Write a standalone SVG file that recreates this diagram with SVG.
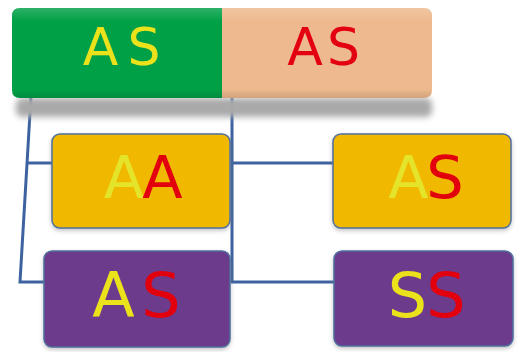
<svg xmlns="http://www.w3.org/2000/svg" width="522" height="352" viewBox="0 0 522 352">
  <defs>
    <filter id="blur6" x="-10%" y="-50%" width="120%" height="200%">
      <feGaussianBlur stdDeviation="3"/>
    </filter>
    <filter id="soft" x="-10%" y="-10%" width="120%" height="130%">
      <feDropShadow dx="0" dy="2" stdDeviation="2" flood-color="#7a7a7a" flood-opacity="0.45"/>
    </filter>
    <linearGradient id="sheen" x1="0" y1="0" x2="0" y2="1">
      <stop offset="0" stop-color="#fff" stop-opacity="0.18"/>
      <stop offset="0.15" stop-color="#fff" stop-opacity="0"/>
      <stop offset="0.9" stop-color="#000" stop-opacity="0"/>
      <stop offset="1" stop-color="#000" stop-opacity="0.12"/>
    </linearGradient>
  </defs>
  <style>
    .t { font-family: "DejaVu Sans", "Open Sans", sans-serif; text-anchor: middle; }
    .big { font-size: 52px; }
    .mid { font-size: 59px; }
    .lg { font-size: 62px; }
    .y { fill: #ece21c; }
    .ly { fill: #e4e42a; }
    .r { fill: #e3000f; }
    .box { stroke: #4d6f9e; stroke-width: 1.5; }
    .gold { fill: #f1b800; }
    .purple { fill: #6d3b8b; }
    .link { fill: none; stroke: #3d62a0; stroke-width: 3; stroke-linejoin: miter; }
  </style>

  <!-- connectors -->
  <g id="connectors">
    <path class="link" d="M31,96 L20,282 L48,282"/>
    <path class="link" d="M28,163 L54,163"/>
    <path class="link" d="M232,96 L232,282 L336,282"/>
    <path class="link" d="M232,163 L336,163"/>
  </g>

  <!-- header bar -->
  <g id="header">
    <rect x="16" y="98" width="416" height="19" rx="6" fill="#a9a9a9" filter="url(#blur6)"/>
    <path d="M20,8 H222 V98 H20 Q12,98 12,90 V16 Q12,8 20,8 Z" fill="#00a046"/>
    <path d="M222,8 H424 Q432,8 432,16 V90 Q432,98 424,98 H222 Z" fill="#eeb98e"/>
    <rect x="12" y="8" width="420" height="90" rx="8" fill="url(#sheen)"/>
    <text class="t big y" x="100.5" y="65">A</text>
    <text class="t big y" x="144" y="65">S</text>
    <text class="t big r" x="305" y="65">A</text>
    <text class="t big r" x="343.5" y="65">S</text>
  </g>

  <!-- first row -->
  <g id="node-aa" filter="url(#soft)">
    <rect class="box gold" x="52" y="134" width="178" height="94" rx="8"/>
    <text class="t mid ly" x="124" y="198">A</text>
    <text class="t mid r" x="162.5" y="198">A</text>
  </g>
  <g id="node-as-1" filter="url(#soft)">
    <rect class="box gold" x="333" y="134" width="178" height="94" rx="8"/>
    <text class="t mid ly" x="408.5" y="198">A</text>
    <text class="t mid r" x="445" y="198">S</text>
  </g>

  <!-- second row -->
  <g id="node-as-2" filter="url(#soft)">
    <rect class="box purple" x="44" y="251" width="186" height="96" rx="8"/>
    <text class="t lg y" x="113.5" y="317">A</text>
    <text class="t lg r" x="161" y="317">S</text>
  </g>
  <g id="node-ss" filter="url(#soft)">
    <rect class="box purple" x="334" y="251" width="179" height="95" rx="8"/>
    <text class="t lg y" x="407.5" y="317">S</text>
    <text class="t lg r" x="446" y="317">S</text>
  </g>
</svg>
